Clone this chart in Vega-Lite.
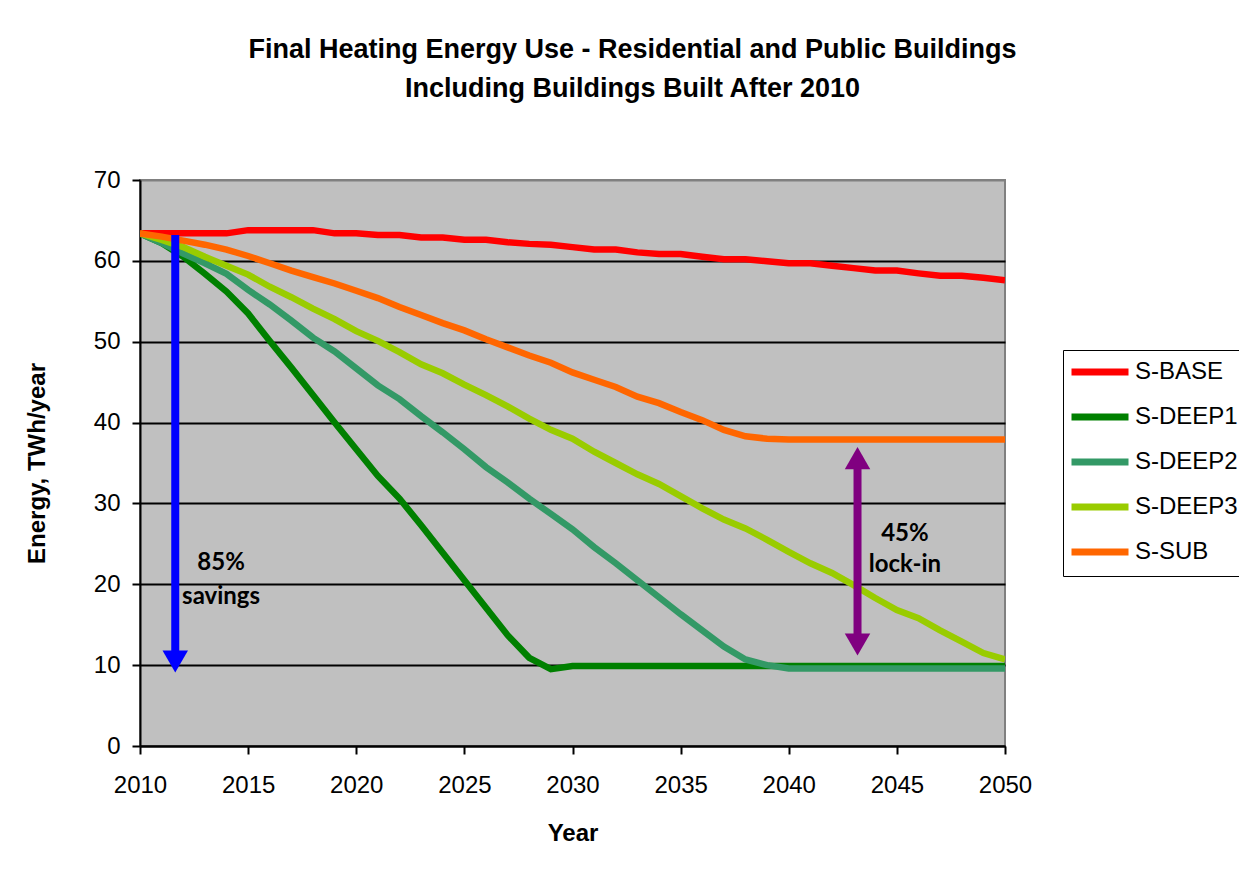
{
  "$schema": "https://vega.github.io/schema/vega-lite/v6.json",
  "width": 865,
  "height": 566,
  "autosize": {"type": "none"},
  "padding": {"left": 140, "top": 180, "right": 234, "bottom": 136},
  "background": "white",
  "title": {
    "text": ["Final Heating Energy Use - Residential and Public Buildings", "Including Buildings Built After 2010"],
    "font": "Liberation Sans",
    "fontSize": 27,
    "fontWeight": "bold",
    "color": "black",
    "anchor": "middle",
    "frame": "group",
    "dx": 60,
    "offset": 65,
    "lineHeight": 39
  },
  "config": {
    "view": {"fill": "#C0C0C0", "stroke": "#808080", "strokeWidth": 2},
    "axis": {
      "domainColor": "black",
      "domainWidth": 2,
      "tickColor": "black",
      "tickWidth": 2,
      "tickSize": 8,
      "labelFont": "Liberation Sans",
      "labelFontSize": 24,
      "labelColor": "black",
      "titleFont": "Liberation Sans",
      "titleFontSize": 24,
      "titleFontWeight": "bold",
      "titleColor": "black",
      "gridWidth": 2,
      "gridOpacity": 1
    },
    "legend": {
      "strokeColor": "black",
      "fillColor": "white",
      "padding": 10,
      "symbolType": "M-4.75,0L4.75,0",
      "symbolSize": 144,
      "symbolStrokeWidth": 7,
      "symbolOffset": 15,
      "labelFont": "Liberation Sans",
      "labelFontSize": 24,
      "labelColor": "black",
      "labelOffset": 23,
      "rowPadding": 17
    }
  },
  "datasets": {
    "series": [
      {"year": 2010, "S-BASE": 63.4, "S-DEEP1": 63.4, "S-DEEP2": 63.4, "S-DEEP3": 63.4, "S-SUB": 63.4},
      {"year": 2011, "S-BASE": 63.4, "S-DEEP1": 62.2, "S-DEEP2": 62.2, "S-DEEP3": 62.6, "S-SUB": 63.0},
      {"year": 2012, "S-BASE": 63.4, "S-DEEP1": 60.5, "S-DEEP2": 60.9, "S-DEEP3": 61.7, "S-SUB": 62.5},
      {"year": 2013, "S-BASE": 63.4, "S-DEEP1": 58.4, "S-DEEP2": 59.7, "S-DEEP3": 60.5, "S-SUB": 62.0},
      {"year": 2014, "S-BASE": 63.4, "S-DEEP1": 56.2, "S-DEEP2": 58.4, "S-DEEP3": 59.4, "S-SUB": 61.4},
      {"year": 2015, "S-BASE": 63.8, "S-DEEP1": 53.5, "S-DEEP2": 56.4, "S-DEEP3": 58.3, "S-SUB": 60.6},
      {"year": 2016, "S-BASE": 63.8, "S-DEEP1": 50.1, "S-DEEP2": 54.6, "S-DEEP3": 56.8, "S-SUB": 59.7},
      {"year": 2017, "S-BASE": 63.8, "S-DEEP1": 46.8, "S-DEEP2": 52.6, "S-DEEP3": 55.5, "S-SUB": 58.8},
      {"year": 2018, "S-BASE": 63.8, "S-DEEP1": 43.4, "S-DEEP2": 50.5, "S-DEEP3": 54.1, "S-SUB": 58.0},
      {"year": 2019, "S-BASE": 63.4, "S-DEEP1": 40.0, "S-DEEP2": 48.8, "S-DEEP3": 52.8, "S-SUB": 57.2},
      {"year": 2020, "S-BASE": 63.4, "S-DEEP1": 36.7, "S-DEEP2": 46.7, "S-DEEP3": 51.3, "S-SUB": 56.3},
      {"year": 2021, "S-BASE": 63.2, "S-DEEP1": 33.4, "S-DEEP2": 44.6, "S-DEEP3": 50.1, "S-SUB": 55.4},
      {"year": 2022, "S-BASE": 63.2, "S-DEEP1": 30.6, "S-DEEP2": 42.9, "S-DEEP3": 48.7, "S-SUB": 54.3},
      {"year": 2023, "S-BASE": 62.9, "S-DEEP1": 27.3, "S-DEEP2": 40.8, "S-DEEP3": 47.2, "S-SUB": 53.3},
      {"year": 2024, "S-BASE": 62.9, "S-DEEP1": 23.9, "S-DEEP2": 38.8, "S-DEEP3": 46.1, "S-SUB": 52.3},
      {"year": 2025, "S-BASE": 62.6, "S-DEEP1": 20.5, "S-DEEP2": 36.7, "S-DEEP3": 44.7, "S-SUB": 51.4},
      {"year": 2026, "S-BASE": 62.6, "S-DEEP1": 17.1, "S-DEEP2": 34.5, "S-DEEP3": 43.4, "S-SUB": 50.3},
      {"year": 2027, "S-BASE": 62.3, "S-DEEP1": 13.7, "S-DEEP2": 32.6, "S-DEEP3": 42.0, "S-SUB": 49.3},
      {"year": 2028, "S-BASE": 62.1, "S-DEEP1": 10.9, "S-DEEP2": 30.6, "S-DEEP3": 40.5, "S-SUB": 48.3},
      {"year": 2029, "S-BASE": 62.0, "S-DEEP1": 9.5, "S-DEEP2": 28.7, "S-DEEP3": 39.1, "S-SUB": 47.4},
      {"year": 2030, "S-BASE": 61.7, "S-DEEP1": 9.9, "S-DEEP2": 26.8, "S-DEEP3": 38.0, "S-SUB": 46.2},
      {"year": 2031, "S-BASE": 61.4, "S-DEEP1": 9.9, "S-DEEP2": 24.6, "S-DEEP3": 36.4, "S-SUB": 45.3},
      {"year": 2032, "S-BASE": 61.4, "S-DEEP1": 9.9, "S-DEEP2": 22.6, "S-DEEP3": 35.0, "S-SUB": 44.4},
      {"year": 2033, "S-BASE": 61.05, "S-DEEP1": 9.9, "S-DEEP2": 20.5, "S-DEEP3": 33.6, "S-SUB": 43.2},
      {"year": 2034, "S-BASE": 60.85, "S-DEEP1": 9.9, "S-DEEP2": 18.4, "S-DEEP3": 32.4, "S-SUB": 42.4},
      {"year": 2035, "S-BASE": 60.85, "S-DEEP1": 9.9, "S-DEEP2": 16.3, "S-DEEP3": 30.9, "S-SUB": 41.3},
      {"year": 2036, "S-BASE": 60.5, "S-DEEP1": 9.9, "S-DEEP2": 14.3, "S-DEEP3": 29.4, "S-SUB": 40.3},
      {"year": 2037, "S-BASE": 60.2, "S-DEEP1": 9.9, "S-DEEP2": 12.3, "S-DEEP3": 28.0, "S-SUB": 39.1},
      {"year": 2038, "S-BASE": 60.2, "S-DEEP1": 9.9, "S-DEEP2": 10.7, "S-DEEP3": 26.9, "S-SUB": 38.3},
      {"year": 2039, "S-BASE": 59.95, "S-DEEP1": 9.9, "S-DEEP2": 10.0, "S-DEEP3": 25.5, "S-SUB": 38.0},
      {"year": 2040, "S-BASE": 59.7, "S-DEEP1": 9.9, "S-DEEP2": 9.6, "S-DEEP3": 24.0, "S-SUB": 37.9},
      {"year": 2041, "S-BASE": 59.7, "S-DEEP1": 9.9, "S-DEEP2": 9.6, "S-DEEP3": 22.6, "S-SUB": 37.9},
      {"year": 2042, "S-BASE": 59.4, "S-DEEP1": 9.9, "S-DEEP2": 9.6, "S-DEEP3": 21.4, "S-SUB": 37.9},
      {"year": 2043, "S-BASE": 59.1, "S-DEEP1": 9.9, "S-DEEP2": 9.6, "S-DEEP3": 19.9, "S-SUB": 37.9},
      {"year": 2044, "S-BASE": 58.8, "S-DEEP1": 9.9, "S-DEEP2": 9.6, "S-DEEP3": 18.3, "S-SUB": 37.9},
      {"year": 2045, "S-BASE": 58.8, "S-DEEP1": 9.9, "S-DEEP2": 9.6, "S-DEEP3": 16.8, "S-SUB": 37.9},
      {"year": 2046, "S-BASE": 58.45, "S-DEEP1": 9.9, "S-DEEP2": 9.6, "S-DEEP3": 15.8, "S-SUB": 37.9},
      {"year": 2047, "S-BASE": 58.15, "S-DEEP1": 9.9, "S-DEEP2": 9.6, "S-DEEP3": 14.3, "S-SUB": 37.9},
      {"year": 2048, "S-BASE": 58.15, "S-DEEP1": 9.9, "S-DEEP2": 9.6, "S-DEEP3": 12.9, "S-SUB": 37.9},
      {"year": 2049, "S-BASE": 57.9, "S-DEEP1": 9.9, "S-DEEP2": 9.6, "S-DEEP3": 11.5, "S-SUB": 37.9},
      {"year": 2050, "S-BASE": 57.6, "S-DEEP1": 9.9, "S-DEEP2": 9.6, "S-DEEP3": 10.7, "S-SUB": 37.9}
    ],
    "labels": [
      {"year": 2013.75, "value": 22.6, "text": "85%"},
      {"year": 2013.75, "value": 18.4, "text": "savings"},
      {"year": 2045.37, "value": 26.2, "text": "45%"},
      {"year": 2045.37, "value": 22.4, "text": "lock-in"}
    ]
  },
  "layer": [
    {
      "data": {"name": "series"},
      "transform": [{"fold": ["S-BASE", "S-DEEP1", "S-DEEP2", "S-DEEP3", "S-SUB"], "as": ["scenario", "value"]}],
      "mark": {"type": "line", "strokeWidth": 6.5, "clip": true},
      "encoding": {
        "x": {
          "field": "year", "type": "quantitative",
          "scale": {"domain": [2010, 2050], "nice": false, "zero": false},
          "axis": {"title": "Year", "values": [2010, 2015, 2020, 2025, 2030, 2035, 2040, 2045, 2050], "format": "d", "grid": false, "labelPadding": 19, "titlePadding": 24, "labelFlush": false}
        },
        "y": {
          "field": "value", "type": "quantitative",
          "scale": {"domain": [0, 70], "nice": false},
          "axis": {"title": "Energy, TWh/year", "values": [0, 10, 20, 30, 40, 50, 60, 70], "grid": true,
            "gridColor": {"condition": {"test": "datum.value === 70", "value": "#808080"}, "value": "black"},
            "labelPadding": 12, "titlePadding": 44}
        },
        "color": {
          "field": "scenario", "type": "nominal",
          "scale": {"domain": ["S-BASE", "S-DEEP1", "S-DEEP2", "S-DEEP3", "S-SUB"], "range": ["#FF0000", "#008000", "#339966", "#99CC00", "#FF6600"]},
          "legend": {"title": null, "orient": "none", "legendX": 923, "legendY": 170}
        }
      }
    },
    {
      "data": {"values": [{"year": 2011.63, "value": 63.2, "value2": 10.6}]},
      "mark": {"type": "rule", "color": "#0000FF", "strokeWidth": 8},
      "encoding": {
        "x": {"field": "year", "type": "quantitative"},
        "y": {"field": "value", "type": "quantitative"},
        "y2": {"field": "value2"}
      }
    },
    {
      "data": {"values": [{"year": 2011.63, "value": 10.45}]},
      "mark": {"type": "point", "shape": "triangle-down", "filled": true, "size": 650, "color": "#0000FF", "opacity": 1},
      "encoding": {
        "x": {"field": "year", "type": "quantitative"},
        "y": {"field": "value", "type": "quantitative"}
      }
    },
    {
      "data": {"values": [{"year": 2043.18, "value": 35.6, "value2": 12.55}]},
      "mark": {"type": "rule", "color": "#800080", "strokeWidth": 8},
      "encoding": {
        "x": {"field": "year", "type": "quantitative"},
        "y": {"field": "value", "type": "quantitative"},
        "y2": {"field": "value2"}
      }
    },
    {
      "data": {"values": [{"year": 2043.18, "value": 35.6}]},
      "mark": {"type": "point", "shape": "triangle-up", "filled": true, "size": 650, "color": "#800080", "opacity": 1},
      "encoding": {
        "x": {"field": "year", "type": "quantitative"},
        "y": {"field": "value", "type": "quantitative"}
      }
    },
    {
      "data": {"values": [{"year": 2043.18, "value": 12.55}]},
      "mark": {"type": "point", "shape": "triangle-down", "filled": true, "size": 650, "color": "#800080", "opacity": 1},
      "encoding": {
        "x": {"field": "year", "type": "quantitative"},
        "y": {"field": "value", "type": "quantitative"}
      }
    },
    {
      "data": {"name": "labels"},
      "mark": {"type": "text", "font": "Lato", "fontSize": 24, "fontWeight": "bold", "color": "black", "align": "center", "baseline": "middle"},
      "encoding": {
        "x": {"field": "year", "type": "quantitative"},
        "y": {"field": "value", "type": "quantitative"},
        "text": {"field": "text"}
      }
    }
  ]
}
